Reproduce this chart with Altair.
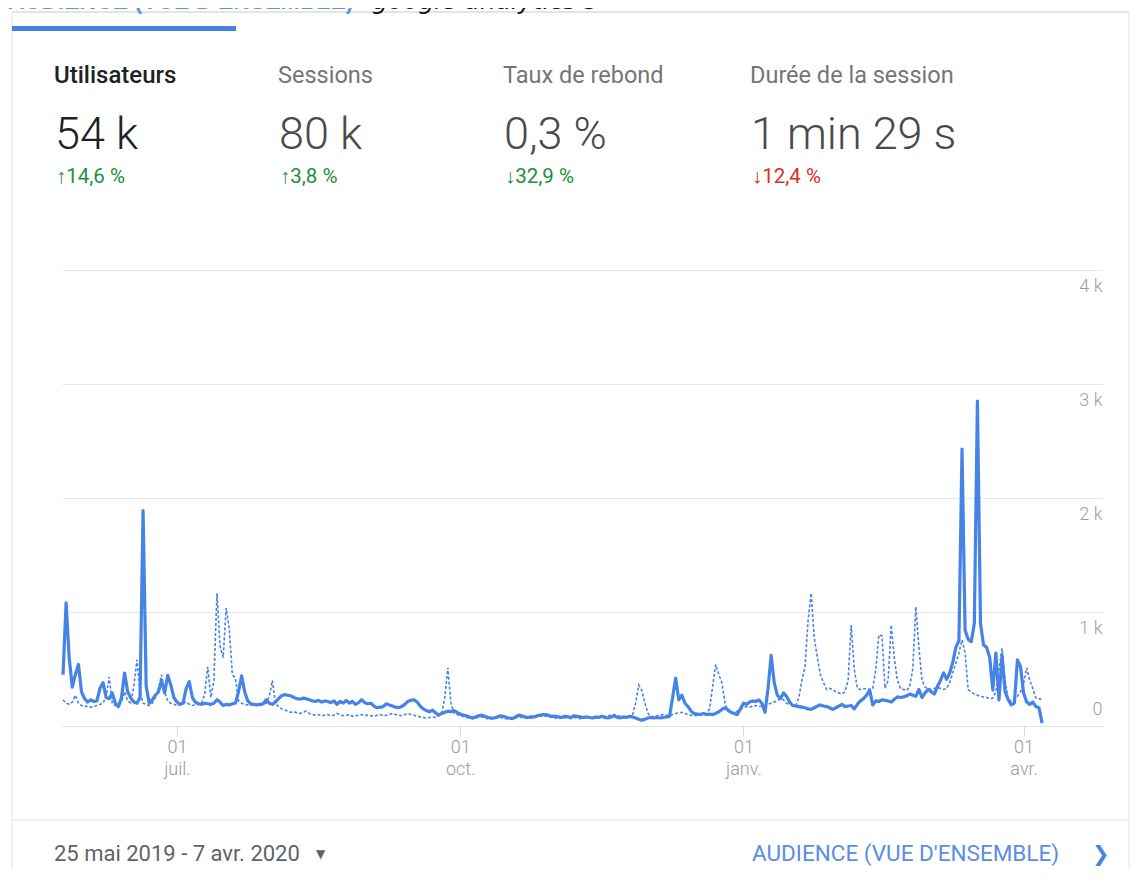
import altair as alt
import pandas as pd

# ---------------- data ----------------
start_date = "2019-05-25"
n_days = 319  # 25 May 2019 .. 7 Apr 2020

users = [
    450, 1080, 600, 340, 450, 540, 300, 240, 210, 230,
    215, 220, 330, 380, 250, 240, 290, 200, 170, 250,
    465, 300, 245, 210, 200, 250, 1890, 350, 200, 230,
    270, 300, 400, 290, 445, 360, 250, 210, 190, 200,
    330, 390, 250, 210, 195, 190, 200, 195, 190, 200,
    230, 210, 180, 190, 185, 195, 200, 300, 440, 300,
    220, 195, 190, 185, 190, 195, 230, 200, 190, 210,
    240, 265, 275, 270, 265, 250, 240, 235, 245, 240,
    230, 220, 215, 225, 210, 220, 215, 205, 220, 190,
    215, 200, 225, 200, 215, 190, 205, 230, 205, 195,
    200, 175, 160, 165, 170, 195, 185, 175, 165, 160,
    170, 190, 215, 225, 230, 210, 175, 150, 135, 125,
    140, 115, 95, 110, 120, 130, 125, 135, 120, 105,
    95, 90, 80, 70, 80, 90, 95, 85, 75, 70,
    70, 80, 90, 85, 75, 70, 65, 80, 95, 90,
    80, 75, 80, 80, 90, 95, 100, 100, 90, 85,
    85, 80, 75, 85, 80, 75, 90, 85, 80, 75,
    80, 75, 70, 80, 75, 85, 75, 70, 80, 90,
    75, 70, 80, 75, 85, 80, 70, 60, 50, 60,
    70, 75, 70, 75, 70, 75, 80, 85, 250, 420,
    230, 270, 200, 170, 130, 110, 105, 100, 110, 100,
    105, 100, 110, 125, 145, 160, 140, 120, 110, 100,
    150, 200, 190, 210, 220, 215, 230, 200, 120, 330,
    620, 380, 270, 240, 290, 260, 210, 180, 175, 170,
    165, 160, 150, 145, 160, 175, 185, 175, 170, 160,
    145, 160, 175, 190, 170, 175, 180, 150, 190, 220,
    240, 270, 315, 185, 220, 215, 230, 225, 220, 210,
    235, 255, 250, 255, 265, 280, 270, 260, 320, 250,
    290, 320, 300, 280, 345, 400, 465, 410, 465, 560,
    690, 750, 2430, 840, 760, 740, 900, 2850, 900, 710,
    690, 600, 315, 640, 230, 620, 300, 230, 185, 200,
    580, 520, 290, 210, 190, 210, 170, 160, 25,
]

previous = [
    230, 200, 190, 210, 270, 200, 180, 170, 175, 165,
    170, 180, 190, 200, 260, 430, 200, 180, 190, 210,
    300, 220, 200, 350, 580, 300, 200, 190, 180, 200,
    250, 330, 450, 300, 220, 200, 190, 180, 185, 200,
    210, 190, 180, 185, 190, 200, 280, 520, 250, 400,
    1165, 700, 600, 1035, 850, 450, 420, 220, 200, 190,
    185, 180, 190, 185, 180, 190, 200, 260, 400, 200,
    170, 150, 140, 130, 120, 125, 115, 110, 120, 130,
    110, 100, 95, 100, 90, 95, 100, 90, 95, 110,
    100, 90, 95, 100, 85, 90, 95, 100, 90, 95,
    90, 85, 95, 100, 90, 95, 100, 110, 100, 95,
    90, 100, 110, 100, 95, 85, 80, 75, 70, 75,
    80, 75, 90, 110, 250, 510, 200, 110, 100, 90,
    85, 75, 70, 65, 70, 75, 80, 70, 65, 60,
    65, 70, 75, 70, 65, 60, 60, 70, 80, 75,
    70, 65, 70, 75, 80, 85, 90, 85, 80, 75,
    70, 65, 70, 75, 70, 65, 75, 70, 65, 70,
    75, 70, 65, 70, 75, 80, 85, 90, 95, 100,
    90, 85, 80, 85, 90, 100, 200, 360, 310, 200,
    110, 80, 85, 90, 95, 100, 95, 90, 100, 110,
    115, 120, 110, 100, 95, 90, 95, 100, 105, 110,
    150, 350, 540, 450, 380, 200, 130, 110, 120, 130,
    145, 160, 170, 165, 175, 180, 170, 175, 180, 190,
    200, 210, 220, 240, 230, 200, 190, 185, 180, 250,
    400, 520, 930, 1165, 775, 600, 450, 380, 320, 330,
    320, 300, 290, 280, 300, 400, 885, 500, 330, 320,
    325, 330, 320, 330, 500, 800, 790, 330, 400, 885,
    600, 400, 330, 320, 310, 345, 500, 1045, 690, 400,
    340, 330, 320, 330, 340, 330, 320, 330, 380, 470,
    550, 640, 755, 640, 320, 300, 280, 270, 260, 255,
    250, 240, 245, 300, 500, 680, 400, 230, 220, 240,
    260, 300, 370, 510, 400, 330, 245, 240, 230,
]

y_ticks = [0, 1000, 2000, 3000, 4000]
month_names = ["janv.", "févr.", "mars", "avr.", "mai", "juin",
               "juil.", "août", "sept.", "oct.", "nov.", "déc."]

metric_names = ["Utilisateurs", "Sessions", "Taux de rebond", "Durée de la session"]
metric_values = ["54 k", "80 k", "0,3 %", "1 min 29 s"]
metric_changes = ["↑14,6 %", "↑3,8 %", "↓32,9 %", "↓12,4 %"]
change_up_good = [True, True, True, False]

title_main = "AUDIENCE (VUE D'ENSEMBLE)"
title_src = "google analytics©"
date_range = "25 mai 2019 - 7 avr. 2020"
link_label = "AUDIENCE (VUE D'ENSEMBLE)"

# ---------------- frame / layout ----------------
X0, Y0 = 62, 270          # page position of the plot area's top-left corner
W, H = 1041, 456          # plot area
PAD = {"left": X0 - 8, "top": Y0 - 8, "right": 28, "bottom": 144}

LINE_BLUE = "#4683e6"
GREEN = "#1e8e3e"
RED = "#d93025"

dates = pd.date_range(start_date, periods=n_days, freq="D").strftime("%Y-%m-%d")
df = pd.DataFrame({"date": dates, "users": users, "previous": previous})

month_arr = "[" + ",".join("'" + m + "'" for m in month_names) + "]"

x_axis = alt.Axis(
    values=[
        alt.DateTime(year=2019, month=7, date=1, utc=True),
        alt.DateTime(year=2019, month=10, date=1, utc=True),
        alt.DateTime(year=2020, month=1, date=1, utc=True),
        alt.DateTime(year=2020, month=4, date=1, utc=True),
    ],
    labelExpr="[utcFormat(datum.value, '%d'), " + month_arr + "[utcmonth(datum.value)]]",
    title=None, grid=False,
    domain=True, domainColor="#e3e3e3", domainWidth=1,
    ticks=True, tickSize=10, tickColor="#d6d6d6",
    labelPadding=2, labelFont="Roboto", labelFontSize=18, labelFontWeight=300,
    labelColor="#9a9a9a", labelLineHeight=22, labelBaseline="top", labelFlush=False,
)
y_axis = alt.Axis(
    orient="right", values=y_ticks,
    labelExpr="datum.value == 0 ? '0' : (datum.value / 1000) + ' k'",
    title=None, grid=True, gridColor="#e8e8e8", gridWidth=1,
    domain=False, ticks=False,
    labelAlign="right", labelPadding=-1,
    labelBaseline={"condition": {"test": "datum.value === 0", "value": "bottom"}, "value": "top"},
    labelOffset={"condition": {"test": "datum.value === 0", "value": -8}, "value": 7},
    labelFont="Roboto", labelFontSize=18, labelFontWeight=300, labelColor="#9e9e9e",
)
x_scale = alt.Scale(
    type="utc",
    domain=[alt.DateTime(year=2019, month=5, date=24, hours=16, utc=True),
            alt.DateTime(year=2020, month=4, date=26, hours=19, utc=True)],
)
y_scale = alt.Scale(domain=[0, 4000], nice=False)

prev_line = alt.Chart(df).mark_line(
    color=LINE_BLUE, strokeWidth=1.6, strokeDash=[3, 2]
).encode(
    x=alt.X("date:T", scale=x_scale, axis=x_axis),
    y=alt.Y("previous:Q", scale=y_scale, axis=y_axis),
)
user_line = alt.Chart(df).mark_line(
    color=LINE_BLUE, strokeWidth=3.2, strokeJoin="round"
).encode(
    x=alt.X("date:T", scale=x_scale, axis=x_axis),
    y=alt.Y("users:Q", scale=y_scale, axis=y_axis),
)


def txt(text, px, py, size, color, weight="normal", font="Roboto",
        style="normal", align="left", baseline="alphabetic"):
    return alt.Chart(pd.DataFrame({"t": [text]})).mark_text(
        align=align, baseline=baseline, font=font, fontSize=size,
        fontWeight=weight, fontStyle=style, color=color,
    ).encode(text="t:N", x=alt.value(px - X0), y=alt.value(py - Y0))


one = pd.DataFrame({"k": [0]})


def hrule(px1, px2, py, color, width=1):
    return alt.Chart(one).mark_rule(color=color, strokeWidth=width).encode(
        x=alt.value(px1 - X0), x2=alt.value(px2 - X0), y=alt.value(py - Y0))


def vrule(px, py1, py2, color, width=1):
    return alt.Chart(one).mark_rule(color=color, strokeWidth=width).encode(
        x=alt.value(px - X0), y=alt.value(py1 - Y0), y2=alt.value(py2 - Y0))


deco = [
    # card frame
    hrule(12, 1129, 12, "#e4e4e4", 2),
    vrule(12, 12, 900, "#e6e6e6", 1),
    vrule(1129, 12, 900, "#e6e6e6", 1),
    hrule(12, 1129, 820, "#e2e2e2", 1),
    # selected tab underline
    alt.Chart(one).mark_rect(color="#4a80db").encode(
        x=alt.value(12 - X0), x2=alt.value(236 - X0),
        y=alt.value(26 - Y0), y2=alt.value(31 - Y0)),
    # page title at the very top (cut off by the screenshot in the reference as well)
    txt(title_main, 8, 9, 23, "#5b9bd5", weight="bold", font="Liberation Sans"),
    txt(title_src, 372, 9, 25, "#111111", style="italic", font="DejaVu Sans"),
]

col_x = [54, 278, 503, 750]
for i in range(4):
    deco.append(txt(metric_names[i], col_x[i], 83, 24 if i == 0 else 23.5,
                     "#202124" if i == 0 else "#757575",
                     weight=500 if i == 0 else "normal"))
    deco.append(txt(metric_values[i], col_x[i] + 1, 149, 45,
                     "#202124" if i == 0 else "#4a4a4a", weight=300))
    deco.append(txt(metric_changes[i], col_x[i] + 2, 183, 20.5,
                     GREEN if change_up_good[i] else RED))

deco += [
    txt(date_range, 54, 861, 22, "#5f6368"),
    txt("▼", 316, 858, 12, "#5f6368", font="DejaVu Sans"),
    txt(link_label, 752, 861, 22.5, "#5b8de6"),
    txt("❯", 1092, 861, 21, "#4a84e3", font="DejaVu Sans", weight="bold"),
]

chart = alt.layer(*deco, prev_line, user_line).properties(
    width=W, height=H,
    autosize=alt.AutoSizeParams(type="none"),
    padding=PAD,
    background="white",
).configure_view(strokeWidth=0)

chart.save("out.html", embed_options={"renderer": "svg", "actions": False})
